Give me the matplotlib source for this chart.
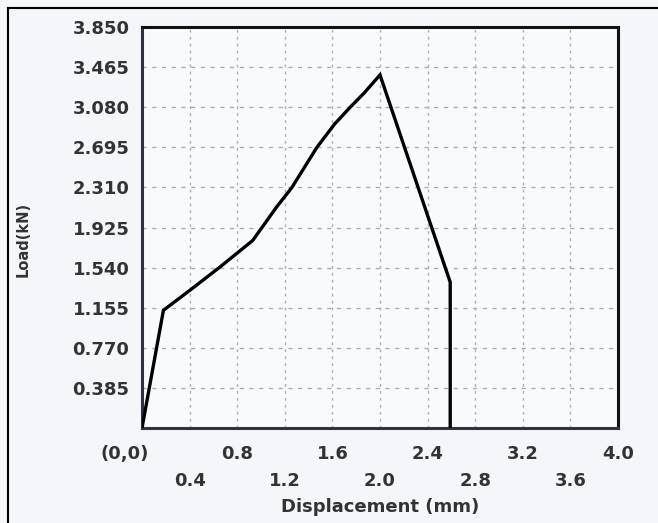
import matplotlib.pyplot as plt
import matplotlib.transforms as mtransforms
from matplotlib.lines import Line2D
import numpy as np

# load-displacement curve
disp = [0.0, 0.18, 0.40, 0.66, 0.93, 1.13, 1.26, 1.47, 1.62, 1.75, 1.87, 2.00, 2.59, 2.59]
load = [0.0, 1.13, 1.32, 1.55, 1.80, 2.12, 2.31, 2.695, 2.92, 3.08, 3.22, 3.39, 1.40, 0.0]

x_major = [0.0, 0.8, 1.6, 2.4, 3.2, 4.0]
x_major_lab = ['(0,0)', '0.8', '1.6', '2.4', '3.2', '4.0']
x_minor = [0.4, 1.2, 2.0, 2.8, 3.6]
x_minor_lab = ['0.4', '1.2', '2.0', '2.8', '3.6']
y_ticks = [0.385, 0.770, 1.155, 1.540, 1.925, 2.310, 2.695, 3.080, 3.465, 3.850]
y_lab = ['%.3f' % v for v in y_ticks]

txt = '#333333'
fig = plt.figure(figsize=(6.58, 5.23), dpi=100, facecolor='#f3f7f9')
ax = fig.add_axes([0.2158, 0.1816, 0.7234, 0.7668], facecolor='#f8fbfc')

ax.plot(disp, load, color='black', lw=2.4, solid_joinstyle='miter', zorder=3)

ax.set_xlim(0, 4.0)
ax.set_ylim(0, 3.85)
ax.set_xticks(x_major)
ax.set_xticklabels(x_major_lab)
ax.set_xticks(x_minor, minor=True)
ax.set_xticklabels(x_minor_lab, minor=True)
ax.set_yticks(y_ticks)
ax.set_yticklabels(y_lab)

ax.tick_params(axis='both', which='both', length=0, labelcolor=txt, labelsize=13)
ax.tick_params(axis='x', which='major', pad=12)
ax.tick_params(axis='x', which='minor', pad=32)
ax.tick_params(axis='y', pad=9)
for lab in ax.get_xticklabels(which='both') + ax.get_yticklabels():
    lab.set_fontweight('bold')

# "(0,0)" sits left of the origin
first = ax.get_xticklabels()[0]
first.set_transform(first.get_transform() +
                    mtransforms.ScaledTranslation(-0.17, 0, fig.dpi_scale_trans))

ax.grid(True, which='both', axis='x', color='#adadad', lw=1.0, ls=(0, (2, 3)))
ax.grid(True, which='major', axis='y', color='#adadad', lw=1.0, ls=(0, (3, 4)))

for side in ['left', 'bottom']:
    ax.spines[side].set_color('#2b3440')
    ax.spines[side].set_linewidth(2.2)
for side in ['top', 'right']:
    ax.spines[side].set_color('#111111')
    ax.spines[side].set_linewidth(2.2)

ax.set_xlabel('Displacement (mm)', fontsize=13, fontweight='bold', color=txt)
ax.xaxis.set_label_coords(0.5, -0.175)
ax.set_ylabel('Load(kN)', fontsize=10.5, fontweight='heavy', color=txt)
ax.yaxis.set_label_coords(-0.233, 0.47)

# scan frame: top and left edges
fig.add_artist(Line2D([8 / 658, 1.0], [1 - 8 / 523, 1 - 8 / 523], color='black', lw=1.5,
                      transform=fig.transFigure))
fig.add_artist(Line2D([8 / 658, 8 / 658], [0.0, 1 - 8 / 523], color='black', lw=1.5,
                      transform=fig.transFigure))

fig.savefig('out.png', dpi=100, facecolor=fig.get_facecolor())
